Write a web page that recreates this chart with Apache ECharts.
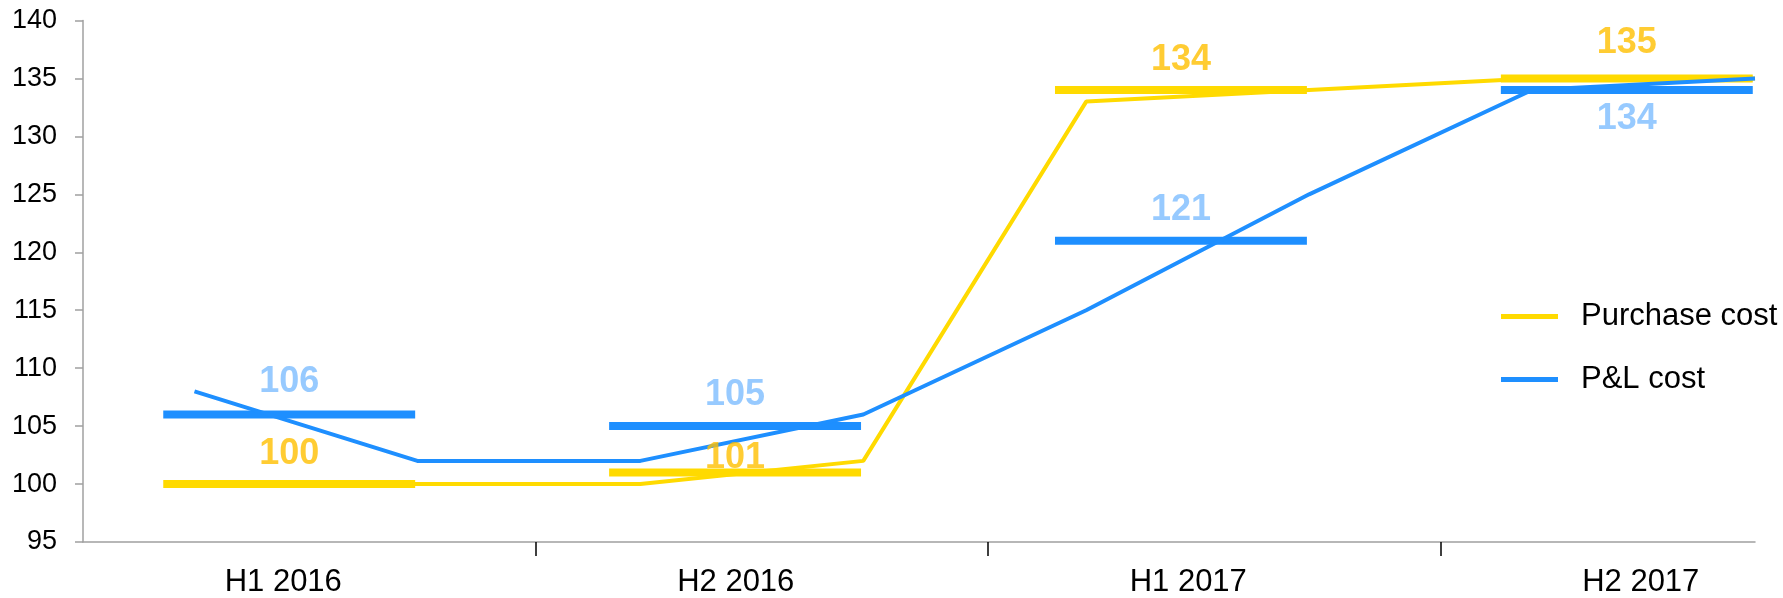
<!DOCTYPE html>
<html>
<head>
<meta charset="utf-8">
<script src="https://cdn.jsdelivr.net/npm/echarts@6/dist/echarts.min.js"></script>
<style>
  html, body { margin: 0; padding: 0; background: #fff; }
  #chart { width: 1783px; height: 598px; }
</style>
</head>
<body>
<div id="chart"></div>
<script>
// half-year categories and their averages (thick bars)
var categories = ['H1 2016', 'H2 2016', 'H1 2017', 'H2 2017'];
var purchaseHalf = [100, 101, 134, 135];
var plHalf = [106, 105, 121, 134];
// quarterly values (thin lines), two per half-year
var purchaseQuarter = [100, 100, 100, 102, 133, 134, 135, 135];
var plQuarter = [108, 102, 102, 106, 115, 125, 134, 135];
// value axis
var yMin = 95, yMax = 140, yStep = 5;

var FONT = '"Liberation Sans", Arial, sans-serif';
var YELLOW = '#FFDA00', BLUE = '#1E8FFF';
var YELLOW_TXT = '#FFBF00', BLUE_TXT = '#7DBDFF';

// bar span inside a half-year, in quarter units
var barFrom = 0.36, barTo = 1.49;

var series = [];

// thick half-year bars
function addBars(name, vals, color) {
  vals.forEach(function(v, c) {
    series.push({
      name: name,
      type: 'line',
      xAxisIndex: 1, yAxisIndex: 1,
      symbol: 'none',
      silent: true,
      z: 2,
      lineStyle: { width: 8, color: color, cap: 'butt' },
      itemStyle: { color: color },
      data: [[2 * c + barFrom, v], [2 * c + barTo, v]]
    });
  });
}
addBars('Purchase cost', purchaseHalf, YELLOW);
addBars('P&L cost', plHalf, BLUE);

// thin quarterly lines
function addLine(name, vals, color) {
  series.push({
    name: name,
    type: 'line',
    xAxisIndex: 1, yAxisIndex: 1,
    symbol: 'none',
    z: 3,
    lineStyle: { width: 4, color: color },
    itemStyle: { color: color },
    data: vals.map(function(v, k) { return [k + 0.5, v]; })
  });
}
addLine('Purchase cost', purchaseQuarter, YELLOW);
addLine('P&L cost', plQuarter, BLUE);

// value labels of the bars
function addLabels(vals, color, place) {
  series.push({
    type: 'scatter',
    xAxisIndex: 1, yAxisIndex: 1,
    symbolSize: 1,
    silent: true,
    z: 4,
    itemStyle: { color: 'rgba(0,0,0,0)' },
    data: vals.map(function(v, c) {
      var p = place[c];
      return {
        value: [2 * c + (barFrom + barTo) / 2, v],
        label: { position: p[0], distance: p[1] }
      };
    }),
    label: {
      show: true,
      fontFamily: FONT,
      fontSize: 36,
      fontWeight: 'bold',
      color: color,
      formatter: function(p) { return p.value[1]; }
    }
  });
}
addLabels(purchaseHalf, YELLOW_TXT, [['top', 11], ['top', -4], ['top', 11], ['top', 17]]);
addLabels(plHalf, BLUE_TXT, [['top', 14], ['top', 13], ['top', 12], ['bottom', 11]]);

var chart = echarts.init(document.getElementById('chart'));
chart.setOption({
  animation: false,
  backgroundColor: '#fff',
  textStyle: { fontFamily: FONT },
  grid: [
    // wide grid only for the half-year ticks and labels (axis runs past the right edge)
    { left: 83, right: -110, top: 20.5, bottom: 56, outerBoundsMode: 'none' },
    { left: 83, right: 28, top: 20.5, bottom: 56, outerBoundsMode: 'none' }
  ],
  legend: {
    data: ['Purchase cost', 'P&L cost'],
    orient: 'vertical',
    left: 1496,
    top: 296,
    icon: 'rect',
    itemWidth: 57,
    itemHeight: 5,
    itemGap: 32,
    textStyle: { fontFamily: FONT, fontSize: 31, color: '#000', padding: [0, 0, 0, 18] }
  },
  xAxis: [
    {
      type: 'category',
      gridIndex: 0,
      data: categories,
      boundaryGap: true,
      axisLine: { show: false },
      axisTick: {
        show: true,
        length: 14,
        interval: function(i) { return i > 0; },
        lineStyle: { color: '#000', width: 1.5 }
      },
      axisLabel: {
        fontFamily: FONT, fontSize: 31, color: '#000',
        margin: 25, padding: [0, 52, 0, 0]
      },
      splitLine: { show: false }
    },
    {
      type: 'value',
      gridIndex: 1,
      min: 0,
      max: 7.5,
      axisLine: { show: true, lineStyle: { color: '#a0a0a0', width: 1.5 } },
      axisTick: { show: false },
      axisLabel: { show: false },
      splitLine: { show: false }
    }
  ],
  yAxis: [
    { type: 'value', gridIndex: 0, min: yMin, max: yMax, show: false },
    {
      type: 'value',
      gridIndex: 1,
      min: yMin,
      max: yMax,
      interval: yStep,
      axisLine: { show: true, lineStyle: { color: '#a0a0a0', width: 1.5 } },
      axisTick: { show: true, length: 8, lineStyle: { color: '#a0a0a0', width: 1.5 } },
      axisLabel: { fontFamily: FONT, fontSize: 27, color: '#000', margin: 26 },
      splitLine: { show: false }
    }
  ],
  series: series
});
</script>
</body>
</html>
